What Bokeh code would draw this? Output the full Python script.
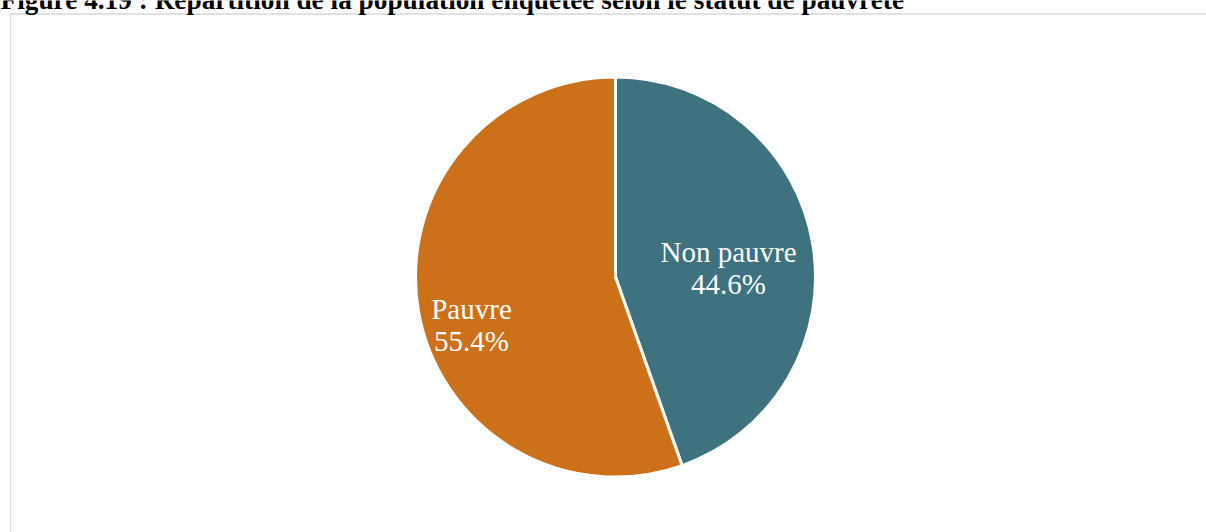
import math
from bokeh.plotting import figure
from bokeh.models import Range1d
from bokeh.core.properties import value
from bokeh.embed import file_html
from bokeh.resources import INLINE

# ---- data ----
title_text = "Figure 4.19 : Répartition de la population enquêtée selon le statut de pauvreté"
categories = ["Non pauvre", "Pauvre"]
shares = [44.6, 55.4]
colors = ["#3D727E", "#CD701A"]

# ---- layout constants (page pixels) ----
W, H = 1206, 532
CX, CY, R = 615, 276.5, 200
label_offsets = [(113, 2), (-144, 59)]   # label block centre relative to pie centre (page px, y down)
half_gap = 16.25
BASE_FIX = 11   # renderer places alphabetic baseline this much lower

def Y(y_page):
    return H - y_page

p = figure(width=W, height=H, output_backend="svg", toolbar_location=None,
           x_range=Range1d(0, W), y_range=Range1d(0, H),
           x_axis_type=None, y_axis_type=None, min_border=0,
           outline_line_color=None, margin=(0, 0, 0, 0))
p.grid.visible = False
p.background_fill_color = "white"
p.border_fill_color = "white"

# chart area border
p.quad(left=[10], right=[W + 20], top=[Y(13.5)], bottom=[-20],
       fill_color=None, line_color="#D9D9D9", line_width=1.3)

# title (partly cut at the top, as in the reference)
p.text(x=[0], y=[Y(10 - BASE_FIX)], text=[title_text], text_font=value("Liberation Serif"),
       text_font_style="bold", text_font_size="27.3px", text_color="black",
       text_align="left", text_baseline="alphabetic")

# pie
total = sum(shares)
start = math.pi / 2
starts, ends = [], []
for v in shares:
    ang = 2 * math.pi * v / total
    starts.append(start)
    ends.append(start - ang)
    start -= ang

p.wedge(x=[CX] * len(shares), y=[Y(CY)] * len(shares), radius=R,
        start_angle=starts, end_angle=ends, direction="clock",
        fill_color=colors, line_color="white", line_width=3)

# labels
for cat, v, (dx, dy) in zip(categories, shares, label_offsets):
    lx, ly = CX + dx, CY + dy
    p.text(x=[lx], y=[Y(ly - half_gap - BASE_FIX)], text=[cat], text_font=value("Liberation Serif"),
           text_font_size="29px", text_color="white", text_align="center",
           text_baseline="alphabetic")
    p.text(x=[lx], y=[Y(ly + half_gap - BASE_FIX)], text=[f"{v:.1f}%"], text_font=value("Liberation Serif"),
           text_font_size="29px", text_color="white", text_align="center",
           text_baseline="alphabetic")

open("out.html", "w").write(file_html(p, INLINE))
